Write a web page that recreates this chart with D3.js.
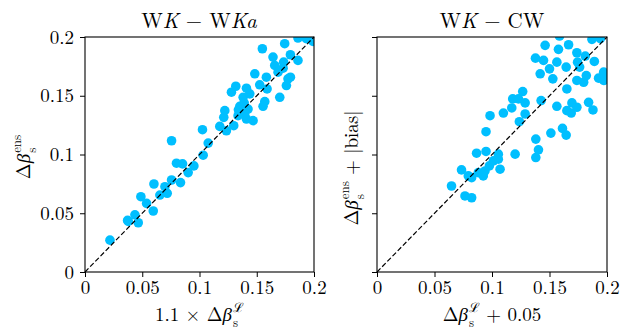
<!DOCTYPE html>
<html>
<head>
<meta charset="utf-8">
<script src="https://cdn.jsdelivr.net/npm/d3@7"></script>
<style>
  html, body { margin: 0; padding: 0; background: #fff; }
  svg { display: block; }
</style>
</head>
<body>
<svg id="chart" width="621" height="330"></svg>
<script>
// ---------------- data ----------------
const tickValues = [0, 0.05, 0.1, 0.15, 0.2];
const tickLabels = ["0", "0.05", "0.1", "0.15", "0.2"];

// Left panel: WK − WKa
const leftX = [0.0218, 0.0372, 0.0436, 0.0465, 0.0378, 0.0488, 0.0538, 0.0596, 0.0602, 0.0654,
  0.0718, 0.0698, 0.0756, 0.0756, 0.0799, 0.0852, 0.0834, 0.0901, 0.0951, 0.1032,
  0.1076, 0.1026, 0.1177, 0.1235, 0.1212, 0.1221, 0.1279, 0.1317, 0.1299, 0.1337,
  0.1352, 0.1381, 0.1410, 0.1395, 0.1424, 0.1439, 0.1468, 0.1410, 0.1483, 0.1526,
  0.1549, 0.1555, 0.1570, 0.1584, 0.1590, 0.1642, 0.1657, 0.1686, 0.1701, 0.1730,
  0.1744, 0.1759, 0.1773, 0.1794, 0.1794, 0.1860, 0.1860, 0.1933, 0.1991, 0.1735,
  0.1390, 0.1340];
const leftY = [0.0271, 0.0439, 0.0487, 0.0419, 0.0430, 0.0641, 0.0584, 0.0519, 0.0749, 0.0655,
  0.0670, 0.0726, 0.0783, 0.1117, 0.0926, 0.0920, 0.0761, 0.0846, 0.0903, 0.0994,
  0.1097, 0.1211, 0.1239, 0.1202, 0.1316, 0.1373, 0.1530, 0.1581, 0.1245, 0.1330,
  0.1410, 0.1487, 0.1564, 0.1345, 0.1387, 0.1516, 0.1288, 0.1302, 0.1687, 0.1593,
  0.1900, 0.1410, 0.1450, 0.1658, 0.1558, 0.1829, 0.1758, 0.1701, 0.1487, 0.1735,
  0.1943, 0.1587, 0.1644, 0.1849, 0.1658, 0.1801, 0.1991, 0.1986, 0.1963, 0.1786,
  0.1440, 0.1380];

// Right panel: WK − CW
const rightX = [0.0648, 0.0765, 0.0823, 0.0735, 0.0794, 0.0823, 0.0866, 0.0881, 0.0924, 0.0939,
  0.0948, 0.0948, 0.0983, 0.0977, 0.1012, 0.1055, 0.1055, 0.1070, 0.1099, 0.1172,
  0.1180, 0.1230, 0.1267, 0.1288, 0.1288, 0.1238, 0.1201, 0.1381, 0.1404, 0.1381,
  0.1427, 0.1512, 0.1564, 0.1613, 0.1645, 0.1651, 0.1651, 0.1695, 0.1689, 0.1738,
  0.1840, 0.1878, 0.1378, 0.1419, 0.1448, 0.1462, 0.1500, 0.1529, 0.1564, 0.1578,
  0.1587, 0.1645, 0.1666, 0.1738, 0.1744, 0.1762, 0.1738, 0.1797, 0.1820, 0.1811,
  0.1890, 0.1869, 0.1942, 0.1927, 0.1971, 0.1971, 0.2015];
const rightY = [0.0732, 0.0647, 0.0632, 0.0869, 0.0818, 0.0803, 0.1011, 0.0846, 0.0818, 0.0860,
  0.1026, 0.1194, 0.1330, 0.0903, 0.0946, 0.1003, 0.0960, 0.0875, 0.1353, 0.1396,
  0.1473, 0.1473, 0.1536, 0.1439, 0.1345, 0.1279, 0.1003, 0.1131, 0.1040, 0.0974,
  0.1459, 0.1182, 0.1410, 0.1222, 0.1165, 0.1558, 0.1373, 0.1439, 0.1353, 0.1402,
  0.1444, 0.1379, 0.1820, 0.1687, 0.1801, 0.1929, 0.1729, 0.1644, 0.1786, 0.1895,
  0.2008, 0.1744, 0.1934, 0.1866, 0.1786, 0.1744, 0.1630, 0.1615, 0.1672, 0.1838,
  0.1792, 0.1980, 0.1986, 0.1650, 0.1701, 0.1630, 0.1658];

// ---------------- layout ----------------
const svg = d3.select("#chart");
const FONT = "Latin Modern Roman";
const F = 19;            // base font size
const plotTop = 37, plotBottom = 272;
const panels = [
  { x0: 85, x1: 314, xs: leftX, ys: leftY, yTickLabels: true,
    title: [{t:"W"},{t:"K",it:true},{t:" − W"},{t:"K",it:true},{t:"a",it:true}],
    xlabel: [{t:"1.1 × Δ"},{t:"β",it:true},{sub:"s",sup:"ℒ"}],
    ylabel: [{t:"Δ"},{t:"β",it:true},{sub:"s",sup:"ens"}], ylabelX: 24, ylabelY: 157 },
  { x0: 377, x1: 607, xs: rightX, ys: rightY, yTickLabels: false,
    title: [{t:"W"},{t:"K",it:true},{t:" − CW"}],
    xlabel: [{t:"Δ"},{t:"β",it:true},{sub:"s",sup:"ℒ"},{t:" + 0.05"}],
    ylabel: [{t:"Δ"},{t:"β",it:true},{sub:"s",sup:"ens"},{t:" + |bias|"}], ylabelX: 352, ylabelY: 168 }
];

// math-like text helper
function mathText(parent, x, y, pieces, size, rotate) {
  const g = parent.append("g").attr("transform", `translate(${x},${y})` + (rotate ? ` rotate(${rotate})` : ""));
  const text = g.append("text").attr("x", 0).attr("y", 0)
    .attr("font-family", FONT).style("font-family", FONT).style("font-size", size + "px").attr("fill", "#000");
  let off = 0;
  const down = 0.3 * size, up = 0.48 * size;
  pieces.forEach(p => {
    if (p.t !== undefined) {
      text.append("tspan").attr("dy", -off).style("font-style", p.it ? "italic" : "normal").text(p.t);
      off = 0;
    } else {
      const ss = size * 0.68;
      const sub = text.append("tspan").attr("dx", 1).attr("dy", down - off).style("font-size", ss + "px").text(p.sub);
      const subW = sub.node().getComputedTextLength();
      const sup = text.append("tspan").attr("dx", -subW).attr("dy", -down - up)
        .style("font-size", ss + "px").text(p.sup);
      const supW = sup.node().getComputedTextLength();
      off = -up;
      if (subW > supW) {
        text.append("tspan").attr("dx", subW - supW).text("");
      }
    }
  });
  const bb = text.node().getBBox();
  text.attr("x", -(bb.x + bb.width / 2));
  return g;
}

const defs = svg.append("defs");

panels.forEach((p, i) => {
  const x = d3.scaleLinear().domain([0, 0.2]).range([p.x0, p.x1]);
  const y = d3.scaleLinear().domain([0, 0.2]).range([plotBottom, plotTop]);

  defs.append("clipPath").attr("id", "clip" + i)
    .append("rect").attr("x", p.x0).attr("y", plotTop).attr("width", p.x1 - p.x0).attr("height", plotBottom - plotTop);

  const pts = p.xs.map((v, k) => [v, p.ys[k]]);
  svg.append("g").attr("clip-path", `url(#clip${i})`)
    .selectAll("circle").data(pts).join("circle")
    .attr("cx", d => x(d[0])).attr("cy", d => y(d[1])).attr("r", 4.8)
    .attr("fill", "#00bfff");

  // diagonal dashed reference
  svg.append("line")
    .attr("x1", x(0)).attr("y1", y(0)).attr("x2", x(0.2)).attr("y2", y(0.2))
    .attr("stroke", "#000").attr("stroke-width", 1.2).attr("stroke-dasharray", "5,2.4");

  // axes
  const xa = d3.axisBottom(x).tickValues(tickValues).tickFormat((d, k) => tickLabels[k])
    .tickSizeInner(5).tickSizeOuter(0).tickPadding(4);
  const ya = d3.axisLeft(y).tickValues(tickValues).tickFormat((d, k) => p.yTickLabels ? tickLabels[k] : "")
    .tickSizeInner(5).tickSizeOuter(0).tickPadding(6);
  const gx = svg.append("g").attr("transform", `translate(0,${plotBottom})`).call(xa);
  const gy = svg.append("g").attr("transform", `translate(${p.x0},0)`).call(ya);
  [gx, gy].forEach(g => {
    g.attr("font-family", FONT).attr("font-size", F);
    g.select(".domain").remove();
    g.selectAll(".tick line").attr("stroke", "#000").attr("stroke-width", 1);
    g.selectAll(".tick text").attr("font-family", FONT).style("font-family", FONT)
      .style("font-size", F + "px").attr("fill", "#000");
  });

  // frame
  svg.append("rect").attr("x", p.x0).attr("y", plotTop).attr("width", p.x1 - p.x0).attr("height", plotBottom - plotTop)
    .attr("fill", "none").attr("stroke", "#000").attr("stroke-width", 1.1);

  // title and labels
  const cx = (p.x0 + p.x1) / 2;
  mathText(svg, cx, 28, p.title, 21, 0);
  mathText(svg, cx, 321, p.xlabel, F, 0);
  mathText(svg, p.ylabelX + 6, p.ylabelY, p.ylabel, F, -90);
});
</script>
</body>
</html>
